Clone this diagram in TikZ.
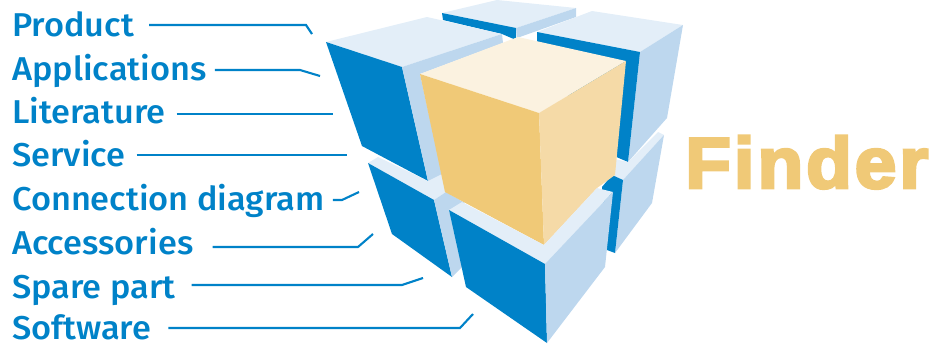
\documentclass[tikz,border=0pt]{standalone}
\usepackage{fontspec}
\setmainfont{Fira Sans}
\newfontfamily\labfont[FakeStretch=1.04]{Fira Sans Medium}
\newfontfamily\findfont[LetterSpace=4,FakeBold=4,FakeStretch=1.04]{Liberation Sans Bold}
\definecolor{bdark}{HTML}{0082C8}
\definecolor{bmid}{HTML}{BDD7EE}
\definecolor{blite}{HTML}{E3EEF8}
\definecolor{oa}{HTML}{F0C977}
\definecolor{ob}{HTML}{F5DAA7}
\definecolor{oc}{HTML}{FBF2E0}
\tikzset{
  lab/.style={anchor=base west,inner sep=0pt,text=bdark,font=\labfont\fontsize{33}{33}\selectfont},
  leader/.style={draw=bdark,line width=2.1pt},
  fd/.style={fill=bdark},fm/.style={fill=bmid},fl/.style={fill=blite},
}
\begin{document}
\begin{tikzpicture}[x=1pt,y=-1pt]
\useasboundingbox (0,0) rectangle (935,343);
% rear cube
\path[fl] (442,13)--(497,0)--(576,8)--(516,28)--cycle;
\path[fd] (442,13)--(516,28)--(516,40)--(502,34)--(443,20)--cycle;
\path[fm] (516,28)--(576,8)--(576,17)--(517,38)--cycle;
% right back cube
\path[fl] (537,32)--(592,11)--(683,25)--(640,52)--cycle;
\path[fm] (640,52)--(683,25)--(667,118)--(628,162)--cycle;
\path[fd] (537,32)--(640,52)--(628,162)--(600,150)--(537,41)--cycle;
% lower right back cube
\path[fl] (664,135)--(658,132)--(628,162)--(610,158)--(600,178)--(612,176)--(623,180)--cycle;
\path[fm] (664,135)--(652,203)--(615,253)--(623,180)--cycle;
\path[fd] (612,175)--(623,180)--(615,253)--(607,250)--(602,187)--cycle;
% upper left cube
\path[fl] (326,42)--(427,17)--(502,34)--(402,67)--cycle;
\path[fd] (326,42)--(402,67)--(428,181)--(362,146)--cycle;
\path[fm] (402,67)--(502,34)--(503,43)--(420,74)--(446,192)--(428,181)--cycle;
% lower left cube
\path[fl] (368,163)--(378,157)--(428,181)--(442,174)--(446,192)--(434,200)--cycle;
\path[fd] (368,163)--(434,200)--(452,277)--(392,234)--cycle;
\path[fm] (434,200)--(446,192)--(465,203)--(449,210)--(462,267)--(452,277)--cycle;
% orange cube
\path[fill=oc] (420,74)--(518,37)--(626,61)--(539,113)--cycle;
\path[fill=oa] (420,74)--(539,113)--(544,245)--(445,192)--cycle;
\path[fill=ob] (539,113)--(626,61)--(615,175)--(597,188)--(544,245)--cycle;
% front cube
\path[fl] (449,210)--(462,202)--(544,245)--(597,188)--(613,192)--(545,264)--cycle;
\path[fd] (449,210)--(545,264)--(547,343)--(466,287)--cycle;
\path[fm] (545,264)--(613,192)--(605,267)--(547,343)--cycle;
% labels
\node[lab] (prod) at (12,36) {Product};
\node[lab] (appl) at (12,80) {Applications};
\node[lab] (lit)  at (12,123) {Literature};
\node[lab] (serv) at (12,166) {Service};
\node[lab] (conn) at (12,210) {Connection diagram};
\node[lab] (acc)  at (12,254) {Accessories};
\node[lab] (spare) at (12,298) {Spare part};
\node[lab] (soft) at (12,339) {Software};
\node[anchor=base west,inner sep=0pt,text=oa,font=\findfont\fontsize{72}{72}\selectfont] (find) at (685,188) {Finder};
% leaders
\coordinate (e1) at (312,34);
\coordinate (e2) at (320,76);
\coordinate (e3) at (333,114);
\coordinate (e4) at (347,155);
\coordinate (e5) at (359,192);
\coordinate (e6) at (373,234);
\coordinate (e7) at (423,278);
\coordinate (e8) at (473,314);
\draw[leader] ([shift={(15,-11)}]prod.base east) -- (306,25) -- (e1);
\draw[leader] ([shift={(8,-10)}]appl.base east) -- (300,70) -- (e2);
\draw[leader] ([shift={(11,-9)}]lit.base east) -- (e3);
\draw[leader] ([shift={(11,-11)}]serv.base east) -- (e4);
\draw[leader] ([shift={(8,-10)}]conn.base east) -- (342,200) -- (e5);
\draw[leader] ([shift={(19,-7)}]acc.base east) -- (358,247) -- (e6);
\draw[leader] ([shift={(16,-13)}]spare.base east) -- (402,285) -- (e7);
\draw[leader] ([shift={(17,-11)}]soft.base east) -- (460,328) -- (e8);
\end{tikzpicture}
\end{document}
